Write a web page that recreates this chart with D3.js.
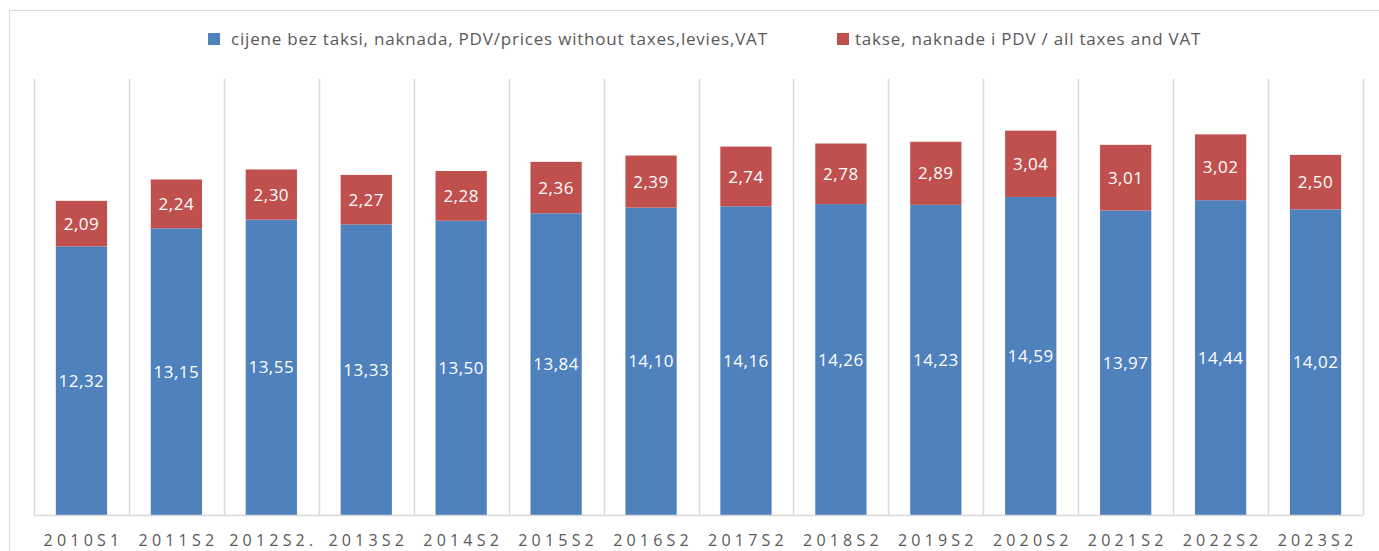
<!DOCTYPE html>
<html>
<head>
<meta charset="utf-8">
<script src="https://cdn.jsdelivr.net/npm/d3@7"></script>
<style>
  body { margin: 0; background: #fff; }
  svg { display: block; font-family: "Open Sans", "DejaVu Sans", sans-serif; }
</style>
</head>
<body>
<div id="chart"></div>
<script>
const categories = ["2010S1", "2011S2", "2012S2.", "2013S2", "2014S2", "2015S2", "2016S2",
    "2017S2", "2018S2", "2019S2", "2020S2", "2021S2", "2022S2", "2023S2"];
const pricesNoTax = [12.32, 13.15, 13.55, 13.33, 13.50, 13.84, 14.10, 14.16, 14.26, 14.23, 14.59, 13.97, 14.44, 14.02];
const taxes = [2.09, 2.24, 2.30, 2.27, 2.28, 2.36, 2.39, 2.74, 2.78, 2.89, 3.04, 3.01, 3.02, 2.50];
const seriesNames = ["cijene bez taksi, naknada, PDV/prices without taxes,levies,VAT",
    "takse, naknade i PDV / all taxes and VAT"];
const seriesColors = ["#4F81BD", "#C0504D"];

const width = 1379, height = 551;
const plot = { left: 34, right: 1363, top: 79, bottom: 515 };

const locale = d3.formatLocale({ decimal: ",", thousands: ".", grouping: [3], currency: ["", ""] });
const fmt = locale.format(".2f");

const rows = categories.map((c, i) => ({ cat: c, a: pricesNoTax[i], b: taxes[i] }));
const stacked = d3.stack().keys(["a", "b"])(rows);

const svg = d3.select("#chart").append("svg")
    .attr("width", width)
    .attr("height", height);

// outer chart frame
svg.append("rect")
    .attr("x", 9.5).attr("y", 10.5)
    .attr("width", 1400).attr("height", 600)
    .attr("fill", "none")
    .attr("stroke", "#d9d9d9");

const x = d3.scaleBand()
    .domain(categories)
    .range([plot.left, plot.right])
    .paddingInner(0.46)
    .paddingOuter(0.23);

const y = d3.scaleLinear()
    .domain([0, 20])
    .range([plot.bottom, plot.top]);

// vertical gridlines between categories
const bounds = d3.range(categories.length + 1).map(i => plot.left + i * (plot.right - plot.left) / categories.length);
svg.append("g")
    .selectAll("line")
    .data(bounds)
    .enter()
    .append("line")
    .attr("x1", d => Math.round(d) + 0.5)
    .attr("x2", d => Math.round(d) + 0.5)
    .attr("y1", y(20))
    .attr("y2", y(0))
    .attr("stroke", "#d9d9d9")
    .attr("stroke-width", 1.5);

// bars
const layers = svg.append("g")
    .selectAll("g")
    .data(stacked)
    .enter()
    .append("g")
    .attr("fill", (d, i) => seriesColors[i]);

layers.selectAll("rect")
    .data(d => d)
    .enter()
    .append("rect")
    .attr("x", d => x(d.data.cat))
    .attr("y", d => y(d[1]))
    .attr("width", x.bandwidth())
    .attr("height", d => y(d[0]) - y(d[1]));

layers.selectAll("text")
    .data(d => d)
    .enter()
    .append("text")
    .attr("x", d => x(d.data.cat) + x.bandwidth() / 2)
    .attr("y", d => (y(d[0]) + y(d[1])) / 2)
    .attr("dy", "0.36em")
    .attr("text-anchor", "middle")
    .attr("fill", "#fff")
    .style("font-size", "17px")
    .style("letter-spacing", "0.5px")
    .text(d => fmt(d[1] - d[0]));

// x axis line
svg.append("line")
    .attr("x1", plot.left).attr("x2", plot.right)
    .attr("y1", plot.bottom + 0.5).attr("y2", plot.bottom + 0.5)
    .attr("stroke", "#d9d9d9")
    .attr("stroke-width", 1.5);

// category labels
svg.append("g")
    .selectAll("text")
    .data(categories)
    .enter()
    .append("text")
    .attr("x", d => x(d) + x.bandwidth() / 2 + 2)
    .attr("y", 546)
    .attr("text-anchor", "middle")
    .attr("fill", "#595959")
    .style("font-size", "16px")
    .style("letter-spacing", "4.2px")
    .text(d => d);

// legend
const legendPos = [208, 837];
const legendGap = [23, 18];
const legend = svg.append("g")
    .selectAll("g")
    .data(seriesNames)
    .enter()
    .append("g")
    .attr("transform", (d, i) => `translate(${legendPos[i]},33)`);

legend.append("rect")
    .attr("width", 12)
    .attr("height", 12)
    .attr("fill", (d, i) => seriesColors[i]);

legend.append("text")
    .attr("x", (d, i) => legendGap[i])
    .attr("y", 12)
    .attr("fill", "#595959")
    .style("font-size", "17px")
    .style("letter-spacing", "0.8px")
    .text(d => d);
</script>
</body>
</html>
